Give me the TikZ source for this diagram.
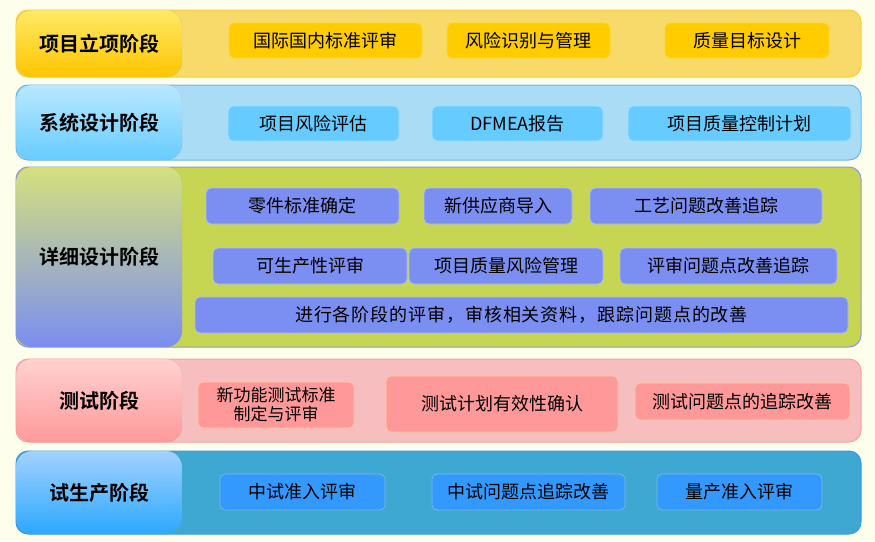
\documentclass[tikz,border=0pt]{standalone}
\usepackage{fontspec}
\setmainfont{Noto Sans CJK SC}[BoldFont={Noto Sans CJK SC Bold}]
\usetikzlibrary{positioning}
\usepackage{xcolor}

\definecolor{bgcream}{HTML}{FEFEEC}
\definecolor{goldline}{HTML}{FFCC33}
\definecolor{goldmix}{HTML}{F7DA6A}
\definecolor{goldbox}{HTML}{FFCC00}
\definecolor{skyline}{HTML}{66BBEE}
\definecolor{skymix}{HTML}{AADDF5}
\definecolor{skybox}{HTML}{66CCFF}
\definecolor{limeline}{HTML}{8899DD}
\definecolor{limemix}{HTML}{C6D652}
\definecolor{violetbox}{HTML}{7B8EF2}
\definecolor{roseline}{HTML}{FF9F9F}
\definecolor{rosemix}{HTML}{F6BEBE}
\definecolor{rosebox}{HTML}{FF9999}
\definecolor{seaLine}{HTML}{3399EE}
\definecolor{seamix}{HTML}{3FA8D2}
\definecolor{seabox}{HTML}{3399FF}

\begin{document}
\begin{tikzpicture}[
        x=1pt, y=-1pt,
        band/.style={rectangle, rounded corners=12pt, line width=1pt, minimum width=845pt, inner sep=0pt},
        stage/.style={rectangle, rounded corners=16pt, draw=white!60!black, draw opacity=0.3, minimum width=166pt, inner sep=0pt, font=\fontsize{20}{22}\selectfont\bfseries},
        item/.style={rectangle, rounded corners=5pt, line width=0.8pt, inner sep=0pt, align=center, font=\fontsize{18}{20}\selectfont}
    ]
        \useasboundingbox [fill=bgcream] (0,0) rectangle (875,541);

        % Bands
        \node (band1) [band, draw=goldline, fill=goldmix, minimum height=67pt] at (438.5,43.5) {};
        \node (band2) [band, draw=skyline, fill=skymix, minimum height=75pt] at (438.5,122.5) {};
        \node (band3) [band, draw=limeline, fill=limemix, minimum height=180pt] at (438.5,257) {};
        \node (band4) [band, draw=roseline, fill=rosemix, minimum height=83pt] at (438.5,400.5) {};
        \node (band5) [band, draw=seaLine, fill=seamix, minimum height=83pt] at (438.5,492.5) {};

        % Stage labels
        \node (stage1) [stage, top color=yellow!30!goldbox!60!white, bottom color=goldbox!90!orange, minimum height=67pt] at (99,43.5) {项目立项阶段};
        \node (stage2) [stage, top color=skybox!45!white, bottom color=skybox, minimum height=75pt] at (99,122.5) {系统设计阶段};
        \node (stage3) [stage, top color=limemix!75!white, bottom color=violetbox, minimum height=180pt] at (99,257) {详细设计阶段};
        \node (stage4) [stage, top color=rosebox!45!white, bottom color=rosebox, minimum height=83pt] at (99,400.5) {测试阶段};
        \node (stage5) [stage, top color=seabox!45!white, bottom color=seabox!85!cyan, minimum height=83pt] at (99,492.5) {试生产阶段};

        % Project initiation
        \node (std) [item, fill=goldbox, draw=goldbox!80!white, minimum width=193pt, minimum height=35pt] at (325.5,40.5) {国际国内标准评审};
        \node (risk) [item, fill=goldbox, draw=goldbox!80!white, minimum width=163pt, minimum height=35pt] at (528.5,40.5) {风险识别与管理};
        \node (goal) [item, fill=goldbox, draw=goldbox!80!white, minimum width=164pt, minimum height=35pt] at (747,40.5) {质量目标设计};

        % System design
        \node (assess) [item, fill=skybox, draw=skybox!60!white, minimum width=171pt, minimum height=35pt] at (313.5,123.5) {项目风险评估};
        \node (dfmea) [item, fill=skybox, draw=skybox!60!white, minimum width=171pt, minimum height=35pt] at (517.5,123.5) {DFMEA报告};
        \node (plan) [item, fill=skybox, draw=skybox!60!white, minimum width=223pt, minimum height=35pt] at (739.5,123.5) {项目质量控制计划};

        % Detailed design
        \node (parts) [item, fill=violetbox, draw=violetbox!60!white, minimum width=193pt, minimum height=36pt] at (302.5,206) {零件标准确定};
        \node (supplier) [item, fill=violetbox, draw=violetbox!60!white, minimum width=148pt, minimum height=36pt] at (498,206) {新供应商导入};
        \node (process) [item, fill=violetbox, draw=violetbox!60!white, minimum width=232pt, minimum height=36pt] at (706,206) {工艺问题改善追踪};
        \node (dfm) [item, fill=violetbox, draw=violetbox!60!white, minimum width=194pt, minimum height=36pt] at (310,266) {可生产性评审};
        \node (qrisk) [item, fill=violetbox, draw=violetbox!60!white, minimum width=194pt, minimum height=36pt] at (506,266) {项目质量风险管理};
        \node (review) [item, fill=violetbox, draw=violetbox!60!white, minimum width=217pt, minimum height=36pt] at (728.5,266) {评审问题点改善追踪};
        \node (overall) [item, fill=violetbox, draw=violetbox!60!white, minimum width=653pt, minimum height=36pt] at (521.5,315) {\addfontfeatures{LetterSpace=5}进行各阶段的评审，审核相关资料，跟踪问题点的改善};

        % Testing
        \node (newtest) [item, fill=rosebox, draw=orange!40!white, minimum width=156pt, minimum height=46pt, font=\fontsize{17}{19}\selectfont] at (276,405) {新功能测试标准\\制定与评审};
        \node (valid) [item, fill=rosebox, draw=orange!40!white, minimum width=232pt, minimum height=56pt] at (502,404) {测试计划有效性确认};
        \node (track) [item, fill=rosebox, draw=orange!40!white, minimum width=215pt, minimum height=37pt] at (742.5,401.5) {测试问题点的追踪改善};

        % Trial production
        \node (entry) [item, fill=seabox, draw=seabox!50!teal!60!white, minimum width=165pt, minimum height=36pt] at (302.5,492) {中试准入评审};
        \node (pilot) [item, fill=seabox, draw=seabox!50!teal!60!white, minimum width=193pt, minimum height=36pt] at (528.5,492) {中试问题点追踪改善};
        \node (mass) [item, fill=seabox, draw=seabox!50!teal!60!white, minimum width=165pt, minimum height=36pt] at (739.5,492) {量产准入评审};
    \end{tikzpicture}
\end{document}
